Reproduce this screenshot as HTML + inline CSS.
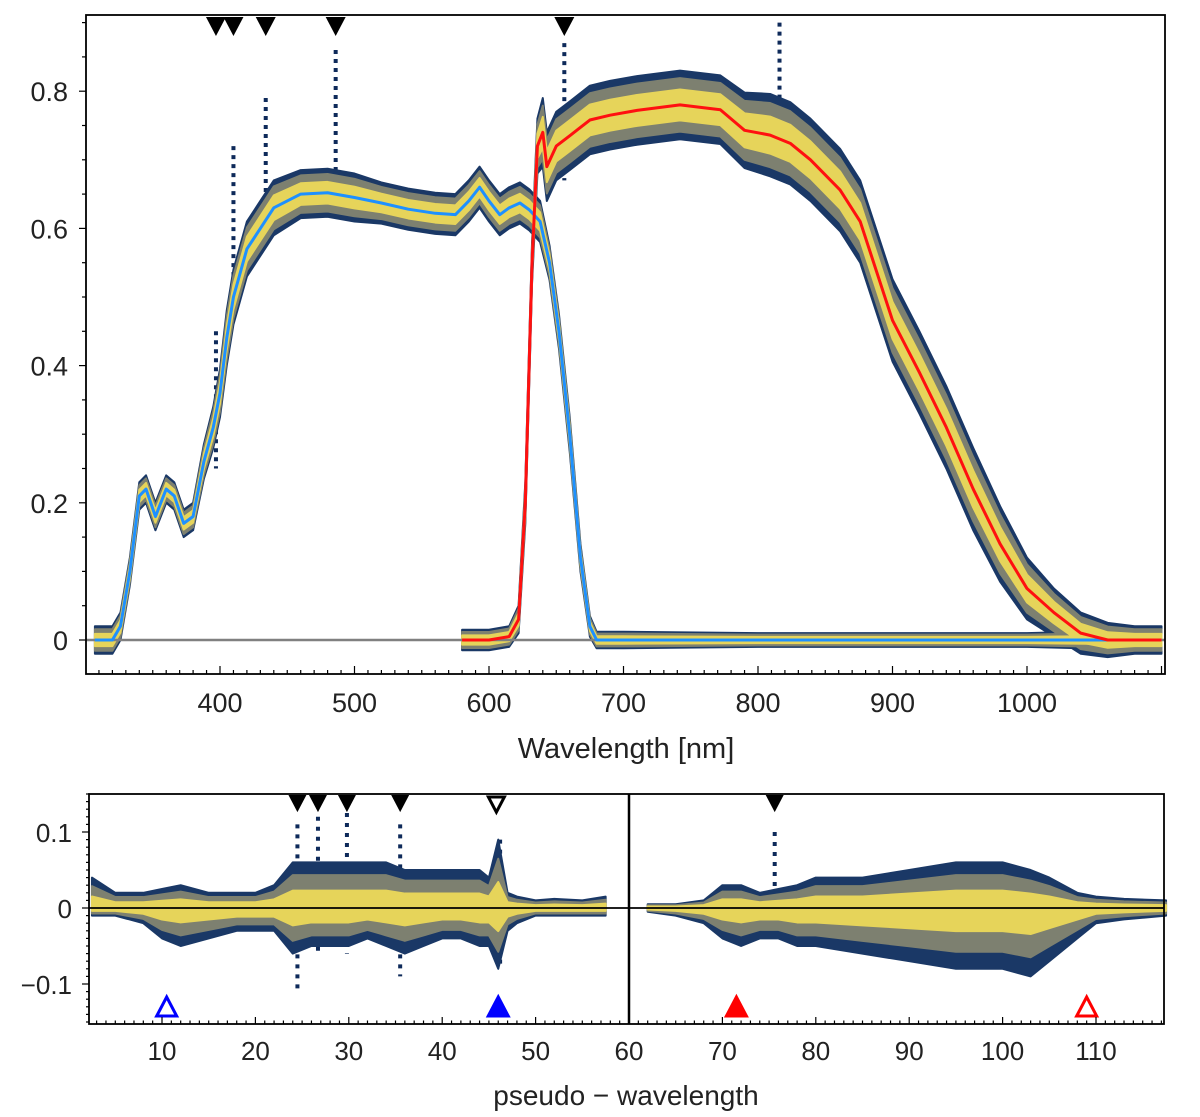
<!DOCTYPE html>
<html><head><meta charset="utf-8"><style>
html,body{margin:0;padding:0;background:#fff;}
svg{display:block;font-family:"Liberation Sans","DejaVu Sans",sans-serif;}
</style></head><body>
<svg id="fig" width="1200" height="1117" viewBox="0 0 1200 1117"></svg>
<script>
// ---- top panel data ----
const blueNm  = [307,320,326,333,340,345,352,360,366,373,380,388,395,400,405,410,420,430,440,460,480,500,520,540,560,575,585,593,600,608,615,623,630,638,645,652,660,668,675,680,700,800,900,1000,1100];
const blueVal = [0.0,0.0,0.02,0.1,0.21,0.22,0.18,0.22,0.21,0.17,0.18,0.26,0.31,0.36,0.44,0.5,0.57,0.6,0.63,0.65,0.652,0.645,0.637,0.628,0.622,0.62,0.64,0.66,0.64,0.62,0.63,0.637,0.627,0.61,0.55,0.45,0.3,0.12,0.02,0.0,0.0,0.0,0.0,0.0,0.0];
const blueW   = [0.02,0.02,0.02,0.02,0.02,0.02,0.02,0.02,0.02,0.02,0.02,0.025,0.03,0.035,0.04,0.04,0.04,0.04,0.04,0.035,0.035,0.035,0.03,0.03,0.03,0.03,0.03,0.03,0.03,0.03,0.03,0.03,0.03,0.03,0.025,0.025,0.025,0.02,0.015,0.012,0.012,0.01,0.01,0.01,0.015];
const redNm   = [580,600,615,622,627,632,636,640,643,650,660,675,690,710,742,772,790,809,824,839,861,876,900,920,940,960,980,1000,1020,1040,1060,1080,1100];
const redVal  = [0.0,0.0,0.005,0.03,0.2,0.55,0.72,0.74,0.69,0.72,0.735,0.758,0.765,0.772,0.78,0.773,0.743,0.736,0.724,0.70,0.656,0.61,0.466,0.39,0.31,0.22,0.14,0.075,0.04,0.01,0.0,0.0,0.0];
const redW    = [0.015,0.015,0.015,0.02,0.03,0.03,0.04,0.05,0.05,0.05,0.05,0.05,0.05,0.05,0.05,0.05,0.055,0.06,0.06,0.06,0.06,0.06,0.06,0.06,0.06,0.06,0.055,0.045,0.035,0.03,0.025,0.02,0.02];
const spikeNm  = [397,410,434,486,656,816];
const spikeTop = [0.45,0.72,0.79,0.86,0.87,0.90];
const markTopNm = [397,410,434,486,656];
const topXTicks = [400,500,600,700,800,900,1000];
const topYTicks = [0,0.2,0.4,0.6,0.8];
const topYLabels = ["0","0.2","0.4","0.6","0.8"];
// ---- bottom panel data ----
const resLX  = [2.5,5,8,10,12,15,18,20,22,24,26,28,30,32,34,36,38,40,42,44,45,46,47,48,50,52,55,57.5];
const resLUp = [0.04,0.02,0.02,0.025,0.03,0.02,0.02,0.02,0.03,0.06,0.06,0.06,0.06,0.06,0.06,0.05,0.05,0.05,0.05,0.05,0.04,0.09,0.02,0.015,0.01,0.012,0.01,0.015];
const resLLo = [-0.01,-0.01,-0.02,-0.04,-0.05,-0.04,-0.03,-0.03,-0.03,-0.06,-0.05,-0.05,-0.05,-0.04,-0.05,-0.06,-0.05,-0.04,-0.04,-0.05,-0.05,-0.08,-0.03,-0.02,-0.01,-0.01,-0.01,-0.01];
const resRX  = [62,65,68,70,72,74,76,78,80,85,90,95,100,103,105,108,110,113,117.5];
const resRUp = [0.005,0.005,0.01,0.03,0.03,0.02,0.025,0.03,0.04,0.04,0.05,0.06,0.06,0.05,0.04,0.02,0.015,0.012,0.01];
const resRLo = [-0.005,-0.01,-0.02,-0.04,-0.05,-0.04,-0.04,-0.05,-0.05,-0.06,-0.07,-0.08,-0.08,-0.09,-0.07,-0.04,-0.02,-0.015,-0.01];
const resSpikeX   = [24.5,26.7,29.8,35.5,46.2,75.6];
const resSpikeTop = [0.11,0.12,0.125,0.11,0.09,0.1];
const resSpikeBot = [-0.11,-0.06,-0.06,-0.09,-0.08,-0.04];
const markBotX = [24.5,26.7,29.8,35.5,75.6];
const markOpenX = [45.8];
const blueOpenX = [10.5], blueFillX=[46], redFillX=[71.5], redOpenX=[109];
const botXTicks = [10,20,30,40,50,60,70,80,90,100,110];
const botYTicks = [-0.1,0,0.1];
const botYLabels = ["\u22120.1","0","0.1"];

const NS="http://www.w3.org/2000/svg";
const svg=document.getElementById('fig');
function mk(tag,attrs,parent){const e=document.createElementNS(NS,tag);for(const k in attrs)e.setAttribute(k,attrs[k]);(parent||svg).appendChild(e);return e;}

const T={l:86,r:1165,t:15,b:674};
const tx=v=>220+(v-400)*1.345;
const ty=v=>640-v*686;
const B={l:89,r:1164,t:794,b:1024};
const bx=v=>629+(v-60)*9.34;
const by=v=>908-v*760;

function band(xs,ys,ws,f,fx,fy,color,name){
  let up=[],lo=[];
  for(let i=0;i<xs.length;i++){up.push(fx(xs[i])+','+fy(ys[i]+ws[i]*f));lo.unshift(fx(xs[i])+','+fy(ys[i]-ws[i]*f));}
  const p=mk('polygon',{points:up.concat(lo).join(' '),fill:color,stroke:color,'stroke-width':2,'stroke-linejoin':'round'});
  
  
}
function band2(xs,ups,los,f,fx,fy,color,name){
  let up=[],lo=[];
  for(let i=0;i<xs.length;i++){up.push(fx(xs[i])+','+fy(ups[i]*f));lo.unshift(fx(xs[i])+','+fy(los[i]*f));}
  const p=mk('polygon',{points:up.concat(lo).join(' '),fill:color,stroke:color,'stroke-width':2,'stroke-linejoin':'round'});
  
  
}
function line(xs,ys,fx,fy,color,w,name,dash){
  const pts=xs.map((x,i)=>fx(x)+','+fy(ys[i])).join(' ');
  const a={points:pts,fill:'none',stroke:color,'stroke-width':w,'stroke-linejoin':'round'};
  if(dash)a['stroke-dasharray']=dash;
  const p=mk('polyline',a);
  
  
}
function tri(x,y,down,fill,stroke,s,name){
  const h=s*0.95;
  const pts=down?`${x-s/2},${y} ${x+s/2},${y} ${x},${y+h}`:`${x-s/2},${y} ${x+s/2},${y} ${x},${y-h}`;
  const p=mk('polygon',{points:pts,fill:fill,stroke:stroke,'stroke-width':3});
  
  
}

// ---------- TOP PANEL ----------
for(let i=0;i<spikeNm.length;i++){
  const s=mk('line',{x1:tx(spikeNm[i]),x2:tx(spikeNm[i]),y1:ty(spikeTop[i]),y2:ty(spikeTop[i]-0.2),stroke:'#0e2a5a','stroke-width':4,'stroke-dasharray':'4 5'});
  
  
}
band(blueNm,blueVal,blueW,1.0,tx,ty,'#1a3866','blue-band-outer');
band(redNm,redVal,redW,1.0,tx,ty,'#1a3866','red-band-outer');
band(blueNm,blueVal,blueW,0.78,tx,ty,'#7d8070','blue-band-mid');
band(redNm,redVal,redW,0.78,tx,ty,'#7d8070','red-band-mid');
band(blueNm,blueVal,blueW,0.45,tx,ty,'#e6d45a','blue-band-core');
band(redNm,redVal,redW,0.45,tx,ty,'#e6d45a','red-band-core');
const zl=mk('line',{x1:T.l,x2:T.r,y1:ty(0),y2:ty(0),stroke:'#808080','stroke-width':2.5});


line(blueNm,blueVal,tx,ty,'#1e90ff',3,'blue-curve');
line(redNm,redVal,tx,ty,'#ff1010',3,'red-curve');
for(const m of markTopNm) tri(tx(m),T.t+2,true,'#000','none',20,'line-marker');
const fT=mk('rect',{x:T.l,y:T.t,width:T.r-T.l,height:T.b-T.t,fill:'none',stroke:'#000','stroke-width':1.8});


for(let v=310;v<=1100;v+=10){
  const major=v%100===0;
  const t=mk('line',{x1:tx(v),x2:tx(v),y1:T.b,y2:T.b-(major?8:4),stroke:'#000','stroke-width':1.2});
  
  
}
topXTicks.forEach(v=>{
  const t=mk('text',{x:tx(v),y:712,'text-anchor':'middle','font-size':27,fill:'#222'});t.textContent=v;
  
  
});
for(let k=-1;k<=18;k++){
  const v=k*0.05; const y=ty(v); if(y<T.t||y>T.b)continue;
  const major=k%4===0;
  const t=mk('line',{x1:T.l,x2:T.l-(major?7:4),y1:y,y2:y,stroke:'#000','stroke-width':1.2});
  
  
}
topYTicks.forEach((v,i)=>{
  const t=mk('text',{x:68,y:ty(v)+10,'text-anchor':'end','font-size':27,fill:'#222'});t.textContent=topYLabels[i];
  
  
});
const xt=mk('text',{x:626,y:758,'text-anchor':'middle','font-size':29,fill:'#222'});xt.textContent='Wavelength  [nm]';



// ---------- BOTTOM PANEL ----------
for(let i=0;i<resSpikeX.length;i++){
  const s=mk('line',{x1:bx(resSpikeX[i]),x2:bx(resSpikeX[i]),y1:by(resSpikeTop[i]),y2:by(resSpikeBot[i]),stroke:'#0e2a5a','stroke-width':4,'stroke-dasharray':'4 6'});
  
  
}
band2(resLX,resLUp,resLLo,1.0,bx,by,'#1a3866','residual-left-outer');
band2(resRX,resRUp,resRLo,1.0,bx,by,'#1a3866','residual-right-outer');
band2(resLX,resLUp,resLLo,0.72,bx,by,'#7d8070','residual-left-mid');
band2(resRX,resRUp,resRLo,0.72,bx,by,'#7d8070','residual-right-mid');
band2(resLX,resLUp,resLLo,0.38,bx,by,'#e6d45a','residual-left-core');
band2(resRX,resRUp,resRLo,0.38,bx,by,'#e6d45a','residual-right-core');
const bz=mk('line',{x1:B.l,x2:B.r,y1:by(0),y2:by(0),stroke:'#000','stroke-width':1.8});


const vl=mk('line',{x1:bx(60),x2:bx(60),y1:B.t,y2:B.b,stroke:'#000','stroke-width':2.5});


for(const m of markBotX) tri(bx(m),B.t+1,true,'#000','none',18,'line-marker');
for(const m of markOpenX) tri(bx(m),B.t+3,true,'#fff','#000',16,'open-line-marker');
for(const m of blueOpenX) tri(bx(m),1016,false,'none','#0000ff',20,'blue-open-marker');
for(const m of blueFillX) tri(bx(m),1016,false,'#0000ff','#0000ff',20,'blue-filled-marker');
for(const m of redFillX) tri(bx(m),1016,false,'#ff0000','#ff0000',20,'red-filled-marker');
for(const m of redOpenX) tri(bx(m),1016,false,'none','#ff0000',20,'red-open-marker');
const fB=mk('rect',{x:B.l,y:B.t,width:B.r-B.l,height:B.b-B.t,fill:'none',stroke:'#000','stroke-width':1.8});


for(let v=3;v<=117;v+=1){
  const major=v%10===0;
  const t=mk('line',{x1:bx(v),x2:bx(v),y1:B.b,y2:B.b-(major?7:3.5),stroke:'#000','stroke-width':1.2});
  
  
}
botXTicks.forEach(v=>{
  const t=mk('text',{x:bx(v),y:1060,'text-anchor':'middle','font-size':26,fill:'#222'});t.textContent=v;
  
  
});
for(let k=-15;k<=15;k++){
  const y=by(k*0.01); if(y<B.t||y>B.b)continue;
  const major=k%10===0;
  const t=mk('line',{x1:B.l,x2:B.l-(major?7:3),y1:y,y2:y,stroke:'#000','stroke-width':1.2});
  
  
}
botYTicks.forEach((v,i)=>{
  const t=mk('text',{x:72,y:by(v)+10,'text-anchor':'end','font-size':26,fill:'#222'});t.textContent=botYLabels[i];
  
  
});
const bt=mk('text',{x:626,y:1105,'text-anchor':'middle','font-size':28,fill:'#222'});bt.textContent='pseudo \u2212 wavelength';


</script>
</body></html>
